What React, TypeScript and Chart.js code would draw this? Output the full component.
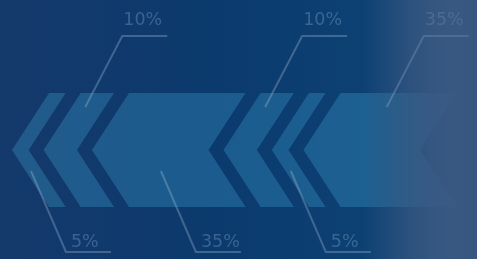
import React, { useEffect, useRef } from "react";
import { Chart, registerables } from "chart.js";

Chart.register(...registerables);

const categories = ["Share"];
const segmentNames = ["S1", "S2", "S3", "S4", "S5", "S6"];
const segmentValues = [5, 10, 35, 10, 5, 35];
const labelTexts = ["5%", "10%", "35%", "10%", "5%", "35%"];

const W = 477;
const H = 259;

function hazeGradient(ctx: CanvasRenderingContext2D, k: number) {
  const hz = ctx.createLinearGradient(0, 0, W, 0);
  const c = (a: number) => `rgba(58,89,130,${a * k})`;
  hz.addColorStop(0, c(0));
  hz.addColorStop(0.76, c(0));
  hz.addColorStop(0.81, c(0.25));
  hz.addColorStop(0.86, c(0.58));
  hz.addColorStop(0.91, c(0.82));
  hz.addColorStop(0.95, c(0.92));
  hz.addColorStop(1, c(0.87));
  return hz;
}

const chevronPlugin = {
  id: "chevronPlugin",
  beforeDraw(chart: any) {
    const { ctx } = chart;
    ctx.save();
    const g = ctx.createLinearGradient(0, 0, W, 0);
    g.addColorStop(0, "#15396b");
    g.addColorStop(0.45, "#0b3a6e");
    g.addColorStop(0.8, "#0d4174");
    g.addColorStop(1, "#0d4174");
    ctx.fillStyle = g;
    ctx.fillRect(0, 0, W, H);
    ctx.restore();
  },
  afterDatasetsDraw(chart: any) {
    const { ctx } = chart;
    const gap = 15;
    ctx.save();
    const n = chart.data.datasets.length;
    const geo: any[] = [];
    for (let i = 0; i < n; i++) {
      const meta = chart.getDatasetMeta(i);
      const el: any = meta.data[0];
      if (!el) continue;
      const xl = Math.min(el.base, el.x) + i * gap;
      const xr = Math.max(el.base, el.x) + i * gap;
      const ym = el.y;
      const half = el.height / 2;
      const y0 = ym - half;
      const y1 = ym + half;
      const s = 0.65 * half;
      geo.push({ i, xl, xr, ym, half, y0, y1, s });
      ctx.beginPath();
      ctx.moveTo(xl, ym);
      ctx.lineTo(xl + s, y0);
      ctx.lineTo(xr + s, y0);
      ctx.lineTo(xr, ym);
      ctx.lineTo(xr + s, y1);
      ctx.lineTo(xl + s, y1);
      ctx.closePath();
      ctx.fillStyle = "rgba(60,160,205,0.33)";
      ctx.fill();
    }

    // strong haze on the right
    ctx.fillStyle = hazeGradient(ctx, 1);
    ctx.fillRect(0, 0, W, H);

    for (const gm of geo) {
      const { i, xl, xr, ym, half, y0, y1, s } = gm;
      const centre = (xl + xr) / 2 - 3;
      const top = i % 2 === 1;
      ctx.strokeStyle = "rgba(165,185,215,0.34)";
      ctx.lineWidth = 2;
      ctx.fillStyle = "rgba(170,195,230,0.29)";
      ctx.font = "17.5px 'DejaVu Sans', sans-serif";
      ctx.textBaseline = "alphabetic";
      ctx.textAlign = "left";
      if (top) {
        const sy = y0 + 14;
        const ax = centre + (s * (ym - sy)) / half;
        const cx = ax + 37;
        const cy = y0 - 57;
        ctx.beginPath();
        ctx.moveTo(ax, sy);
        ctx.lineTo(cx, cy);
        ctx.lineTo(cx + 45, cy);
        ctx.stroke();
        ctx.fillText(labelTexts[i], cx + 1, cy - 11);
      } else {
        const sy = ym + 21;
        const ax = centre + (s * (sy - ym)) / half;
        const cx = ax + 35;
        const cy = y1 + 45;
        ctx.beginPath();
        ctx.moveTo(ax, sy);
        ctx.lineTo(cx, cy);
        ctx.lineTo(cx + 45, cy);
        ctx.stroke();
        ctx.fillText(labelTexts[i], cx + 5, cy - 5);
      }
    }

    // light haze over the labels
    ctx.fillStyle = hazeGradient(ctx, 0.45);
    ctx.fillRect(0, 0, W, H);
    ctx.restore();
  },
};

export default function App() {
  const ref = useRef<HTMLCanvasElement | null>(null);
  useEffect(() => {
    if (!ref.current) return;
    const chart = new Chart(ref.current, {
      type: "bar",
      data: {
        labels: categories,
        datasets: segmentValues.map((v, i) => ({
          label: segmentNames[i],
          data: [v],
          backgroundColor: "rgba(0,0,0,0)",
          borderWidth: 0,
          barThickness: 114,
        })),
      },
      options: {
        indexAxis: "y",
        responsive: false,
        animation: false,
        events: [],
        layout: { padding: { top: 41, bottom: 0, left: 0, right: 0 } },
        scales: {
          x: { type: "linear", stacked: true, display: false, min: -3.6, max: 139.6 },
          y: { stacked: true, display: false },
        },
        plugins: { legend: { display: false }, tooltip: { enabled: false } },
      },
      plugins: [chevronPlugin],
    } as any);
    return () => chart.destroy();
  }, []);
  return (
    <div style={{ position: "fixed", left: 0, top: 0, width: W, height: H }}>
      <canvas ref={ref} width={W} height={H} style={{ display: "block", width: W, height: H }} />
    </div>
  );
}
